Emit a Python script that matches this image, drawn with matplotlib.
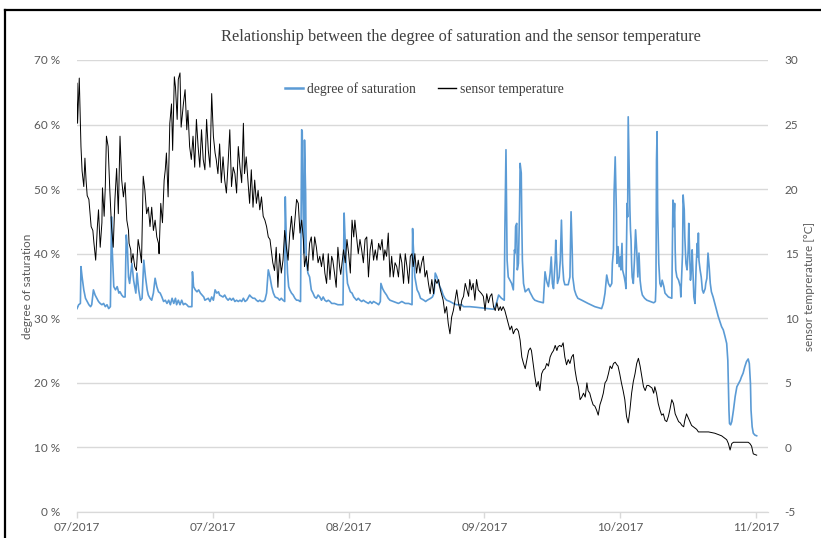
#!/usr/bin/env python

import matplotlib
matplotlib.use("Agg")
import matplotlib.pyplot as plt
from matplotlib.lines import Line2D
from matplotlib.ticker import MultipleLocator, FuncFormatter
import pandas as pd

START = pd.Timestamp("2017-07-06")

# degree of saturation [%], day offset from START
sat_days = [
    0.0, 0.3, 0.6, 0.7, 0.9, 1.2, 1.5, 1.8, 2.1, 2.4, 2.6, 2.9, 3.2, 3.5, 3.8, 4.1,
    4.4, 4.7, 5.0, 5.3, 5.6, 5.9, 6.1, 6.2, 6.5, 6.8, 7.1, 7.4, 7.6, 7.9, 8.2, 8.5,
    8.7, 8.9, 9.1, 9.3, 9.5, 9.7, 10.0, 10.2, 10.4, 10.6, 10.9, 11.2, 11.5, 11.8, 12.1,
    12.4, 12.6, 12.9, 13.2, 13.5, 13.8, 14.1, 14.4, 14.7, 15.0, 15.3, 15.6, 15.9, 16.2,
    16.5, 16.8, 17.1, 17.4, 17.6, 17.9, 18.2, 18.5, 18.8, 19.1, 19.4, 19.7, 20.3, 20.4,
    20.6, 20.9, 21.2, 21.5, 21.8, 22.1, 22.4, 22.6, 23.2, 23.5, 23.8, 24.1, 24.4, 24.7,
    25.0, 25.2, 25.8, 26.1, 26.4, 26.7, 27.0, 27.3, 27.6, 27.9, 28.2, 28.5, 28.8, 29.1,
    29.4, 29.7, 30.0, 30.2, 30.5, 30.8, 31.1, 31.4, 31.7, 32.0, 32.3, 32.6, 32.9, 33.2,
    33.5, 33.8, 34.1, 34.4, 34.7, 35.0, 35.5, 35.8, 36.1, 36.4, 36.7, 36.8, 37.0, 37.2,
    37.4, 37.6, 37.9, 38.2, 38.5, 38.8, 39.1, 39.4, 39.5, 39.7, 39.8, 39.9, 40.1, 40.2,
    40.4, 40.5, 40.8, 41.1, 41.4, 41.7, 42.0, 42.3, 42.6, 42.9, 43.2, 43.5, 43.8, 44.1,
    44.4, 44.7, 45.0, 45.5, 46.1, 46.7, 47.0, 47.2, 47.4, 47.6, 47.8, 48.0, 48.3, 48.6,
    48.9, 49.1, 49.4, 49.7, 50.0, 50.3, 50.6, 50.9, 51.5, 51.8, 52.1, 52.4, 53.0, 53.3,
    53.6, 53.7, 54.0, 54.3, 54.7, 55.0, 55.3, 55.9, 56.8, 57.4, 58.0, 58.6, 59.2, 59.3,
    59.4, 59.6, 59.7, 59.9, 60.1, 60.4, 60.7, 61.3, 61.6, 61.9, 62.5, 62.8, 63.1, 63.3,
    63.6, 63.9, 64.1, 64.4, 64.7, 65.0, 65.3, 65.9, 66.5, 67.1, 68.0, 68.3, 69.4, 70.6,
    72.7, 73.6, 73.9, 74.2, 74.5, 74.8, 75.0, 75.5, 75.6, 75.8, 75.9, 76.0, 76.2, 76.5,
    76.8, 77.1, 77.3, 77.4, 77.5, 77.7, 77.8, 78.0, 78.2, 78.3, 78.5, 78.6, 78.7, 78.9,
    79.2, 79.8, 80.0, 80.3, 80.6, 80.9, 81.5, 82.4, 82.7, 83.0, 83.3, 83.6, 83.8, 84.0,
    84.2, 84.5, 84.6, 84.8, 84.9, 85.2, 85.4, 85.6, 85.8, 86.0, 86.2, 86.8, 87.1, 87.3,
    87.5, 87.6, 87.9, 88.2, 88.5, 89.2, 90.3, 91.5, 92.7, 93.0, 93.3, 93.6, 93.9, 94.2,
    94.5, 94.6, 94.8, 94.9, 95.1, 95.3, 95.4, 95.6, 95.8, 96.0, 96.1, 96.3, 96.4, 96.7,
    96.9, 97.0, 97.2, 97.3, 97.4, 97.6, 97.7, 97.8, 97.9, 98.0, 98.1, 98.3, 98.5, 98.7,
    98.9, 99.1, 99.3, 99.5, 99.7, 99.9, 100.3, 100.7, 101.3, 101.9, 102.2, 102.3, 102.4,
    102.5, 102.6, 102.8, 103.0, 103.2, 103.4, 103.7, 103.9, 104.5, 105.1, 105.3, 105.4,
    105.6, 105.7, 105.8, 106.0, 106.3, 106.6, 106.7, 107.0, 107.1, 107.3, 107.4, 107.6,
    107.8, 108.0, 108.1, 108.3, 108.4, 108.6, 108.7, 109.0, 109.2, 109.4, 109.6, 109.7,
    109.8, 109.9, 110.1, 110.3, 110.5, 110.7, 111.0, 111.1, 111.3, 111.5, 111.7, 111.9,
    112.1, 112.4, 112.7, 113.0, 113.3, 113.6, 113.9, 114.2, 114.5, 114.8, 115.0, 115.1,
    115.2, 115.3, 115.5, 115.7, 116.0, 116.3, 116.6, 116.9, 117.2, 117.4, 117.7, 118.0,
    118.3, 118.6, 118.8, 119.0, 119.1, 119.3, 119.5, 119.8, 120.1,
]
sat_vals = [
    31.5, 32.1, 32.3, 38.0, 36.4, 34.4, 33.1, 32.6, 32.1, 31.8, 32.1, 34.4, 33.6, 33.1, 32.6, 32.3,
    32.1, 32.3, 31.8, 32.1, 31.5, 31.8, 45.7, 41.1, 34.9, 34.4, 34.9, 33.9, 34.1, 33.6, 33.3, 33.3,
    42.9, 41.1, 36.4, 35.4, 37.0, 38.5, 35.9, 34.9, 33.9, 37.0, 34.4, 32.8, 33.1, 39.0, 36.4,
    34.4, 33.6, 33.1, 32.8, 33.9, 36.2, 34.9, 34.1, 33.9, 33.3, 32.6, 32.8, 32.3, 32.8,
    32.1, 33.1, 32.3, 33.1, 32.1, 32.8, 32.1, 32.8, 32.1, 32.3, 32.1, 31.8, 31.8, 37.2,
    34.9, 34.4, 34.1, 34.4, 33.9, 33.6, 33.3, 32.8, 33.1, 32.6, 33.3, 32.8, 34.4, 33.9,
    34.1, 33.6, 33.3, 33.6, 33.1, 32.8, 33.1, 32.8, 33.1, 32.6, 32.8, 32.6, 32.8, 32.6,
    33.1, 32.6, 32.8, 33.1, 33.6, 33.3, 33.1, 33.1, 32.8, 32.6, 32.8, 32.6, 32.6, 32.8,
    33.9, 37.5, 36.4, 34.9, 33.9, 33.3, 33.1, 32.8, 33.1, 32.8, 32.6, 48.8, 41.6, 37.0,
    34.9, 34.4, 33.9, 33.6, 33.1, 32.8, 32.8, 32.6, 32.6, 59.2, 58.9, 49.3, 40.1, 57.6,
    49.3, 39.0, 37.0, 36.4, 34.4, 33.9, 33.3, 33.1, 33.6, 33.3, 32.8, 33.3, 32.8, 32.6,
    32.8, 32.6, 32.3, 32.3, 32.1, 32.1, 32.1, 46.3, 41.6, 37.5, 35.4, 34.9, 34.1, 33.9,
    33.3, 33.1, 32.8, 33.1, 32.8, 32.6, 32.8, 32.6, 32.3, 32.6, 32.3, 32.6, 32.3, 32.1,
    32.6, 35.4, 34.6, 34.1, 33.6, 33.1, 32.8, 32.6, 32.3, 32.6, 32.3, 32.3, 32.1, 43.9,
    41.6, 38.0, 36.4, 35.4, 34.4, 33.9, 33.1, 32.8, 32.6, 32.8, 33.1, 33.3, 33.9, 37.0,
    36.4, 35.4, 34.9, 34.4, 33.6, 33.1, 32.8, 32.6, 32.3, 32.1, 32.1, 31.8, 31.8, 31.7,
    31.5, 31.4, 31.8, 32.6, 33.6, 33.3, 33.1, 32.8, 43.2, 56.1, 46.8, 39.0, 36.4, 35.9,
    35.4, 34.4, 40.6, 40.1, 44.2, 44.7, 37.5, 38.5, 46.8, 54.0, 52.5, 44.7, 39.0, 35.4,
    34.1, 34.6, 34.1, 33.6, 33.1, 32.8, 32.6, 32.4, 37.2, 35.7, 34.9, 37.0, 39.5, 35.4,
    34.6, 39.0, 42.1, 38.0, 35.4, 36.4, 39.0, 45.2, 38.5, 35.9, 35.2, 35.2, 36.4, 46.5,
    40.6, 36.4, 34.4, 33.6, 33.1, 32.8, 32.3, 31.8, 31.5, 32.3, 33.9, 36.7, 35.4, 34.9,
    35.4, 38.5, 40.6, 49.4, 55.0, 46.8, 38.5, 41.1, 38.0, 39.5, 37.5, 41.6, 37.5, 36.4,
    35.4, 34.6, 47.8, 45.7, 61.2, 51.9, 46.8, 43.7, 42.1, 38.5, 36.4, 35.4, 39.0, 43.7,
    40.6, 36.4, 40.1, 35.9, 34.4, 33.6, 33.1, 32.8, 32.6, 32.4, 32.6, 34.9, 54.5,
    58.9, 46.8, 38.5, 35.4, 34.9, 35.9, 34.9, 33.9, 33.3, 33.1, 48.3, 44.2,
    47.8, 40.6, 37.5, 36.4, 35.9, 34.9, 33.3, 40.1, 49.1, 46.8, 42.6, 38.5,
    37.5, 40.6, 44.7, 39.0, 35.9, 38.0, 40.6, 33.3, 32.3, 38.0, 41.6, 39.5,
    43.2, 39.0, 37.5, 36.4, 34.4, 33.9, 34.6, 35.4, 36.2, 40.1, 38.0, 35.4,
    34.1, 33.3, 32.3, 31.3, 30.3, 29.5, 28.7, 28.2, 27.2, 26.1, 23.5, 19.9,
    15.8, 13.7, 13.5, 14.0, 15.8, 17.9, 19.4, 19.9, 20.4, 20.9, 21.5, 22.5,
    23.3, 23.7, 23.0, 19.9, 15.8, 13.2, 12.2, 11.9, 11.8,
]

# sensor temperature [°C], day offset from START
temp_days = [
    0.0, 0.1, 0.4, 0.7, 0.9, 1.2, 1.4, 1.6, 1.8, 2.1, 2.3, 2.5, 2.8, 3.0, 3.3, 3.6, 3.8,
    4.1, 4.4, 4.5, 4.8, 5.0, 5.2, 5.5, 5.8, 6.1, 6.4, 6.7, 7.0, 7.3, 7.6, 7.9, 8.2, 8.5,
    8.8, 9.1, 9.2, 9.5, 9.6, 9.9, 10.2, 10.5, 10.8, 11.1, 11.4, 11.7, 12.0, 12.3, 12.6,
    12.9, 13.2, 13.5, 13.8, 14.1, 14.4, 14.5, 14.8, 15.1, 15.4, 15.6, 15.8, 16.1, 16.4,
    16.7, 16.9, 17.2, 17.4, 17.7, 17.9, 18.2, 18.4, 18.8, 19.1, 19.4, 19.6, 19.9, 20.2,
    20.5, 20.8, 21.1, 21.4, 21.7, 22.0, 22.3, 22.6, 22.9, 23.2, 23.5, 23.8, 24.1, 24.4,
    24.6, 24.9, 25.2, 25.5, 25.8, 26.1, 26.4, 26.7, 27.0, 27.3, 27.6, 27.9, 28.2, 28.5,
    28.8, 29.1, 29.4, 29.6, 29.9, 30.2, 30.5, 30.8, 31.1, 31.4, 31.7, 32.0, 32.3, 32.6,
    32.9, 33.2, 33.5, 33.8, 34.1, 34.4, 34.6, 34.9, 35.2, 35.5, 35.8, 36.1, 36.4, 36.7,
    37.0, 37.3, 37.6, 37.9, 38.2, 38.5, 38.8, 39.1, 39.4, 39.7, 40.0, 40.2, 40.5, 40.8,
    41.1, 41.4, 41.7, 42.0, 42.3, 42.6, 42.9, 43.2, 43.5, 43.8, 44.1, 44.4, 44.7, 45.0,
    45.2, 45.5, 45.8, 46.1, 46.4, 46.6, 47.1, 47.4, 47.7, 48.0, 48.3, 48.6, 48.9, 49.1,
    49.4, 49.7, 50.0, 50.3, 50.6, 50.9, 51.2, 51.5, 51.8, 52.1, 52.4, 52.7, 53.0, 53.3,
    53.6, 53.9, 54.2, 54.4, 54.7, 55.0, 55.3, 55.6, 55.9, 56.2, 56.5, 56.8, 57.1, 57.4,
    57.7, 58.0, 58.3, 58.6, 58.9, 59.2, 59.4, 59.7, 60.0, 60.3, 60.6, 60.9, 61.2, 61.5,
    61.8, 62.1, 62.4, 62.7, 63.0, 63.3, 63.6, 63.9, 64.2, 64.4, 64.7, 65.0, 65.3, 65.6,
    65.9, 66.2, 66.5, 66.8, 67.1, 67.4, 67.7, 68.0, 68.3, 68.6, 68.9, 69.2, 69.4, 69.7,
    70.0, 70.3, 70.6, 70.9, 71.5, 71.8, 72.1, 72.4, 72.7, 73.0, 73.3, 73.6, 73.9, 74.2,
    74.5, 74.8, 75.0, 75.3, 75.6, 75.9, 76.2, 76.5, 76.8, 77.1, 77.4, 77.7, 78.0, 78.3,
    78.6, 78.9, 79.2, 79.5, 79.8, 80.1, 80.3, 80.6, 80.9, 81.2, 81.5, 81.8, 82.1, 82.4,
    82.7, 83.0, 83.3, 83.6, 83.9, 84.2, 84.5, 84.8, 85.0, 85.3, 85.6, 85.9, 86.2, 86.5,
    86.8, 87.1, 87.4, 87.7, 88.0, 88.3, 88.6, 88.9, 89.2, 89.5, 89.8, 90.1, 90.3, 90.6,
    90.9, 91.2, 91.5, 91.8, 92.1, 92.4, 92.7, 93.0, 93.3, 93.6, 93.9, 94.2, 94.5, 94.8,
    95.1, 95.4, 95.6, 95.9, 96.2, 96.5, 96.8, 97.1, 97.4, 97.7, 98.0, 98.3, 98.6, 98.9,
    99.2, 99.5, 99.8, 100.1, 100.4, 100.7, 101.0, 101.3, 101.6, 101.9, 102.1, 102.4,
    102.7, 103.0, 103.3, 103.6, 103.9, 104.2, 104.5, 104.8, 105.1, 105.4, 105.7, 106.0,
    106.3, 106.6, 106.9, 107.2, 107.4, 107.7, 108.0, 108.3, 108.6, 108.9, 109.2, 109.5,
    109.8, 110.4, 111.6, 112.7, 113.3, 113.9, 114.5, 114.8, 115.1, 115.4, 115.7, 116.0,
    117.4, 118.6, 118.9, 119.2, 119.5, 120.1,
]
temp_vals = [
    28.2, 25.1, 28.6, 23.3, 21.4, 20.2, 22.4, 20.7, 19.5, 19.2, 18.1, 17.1, 16.8, 15.8, 14.5, 17.1, 18.4,
    15.5, 17.4, 20.1, 17.9, 20.2, 24.1, 23.3, 19.9, 17.1, 15.5, 19.2, 21.6, 18.1, 24.1, 20.7, 19.4, 20.5,
    17.6, 16.8, 15.8, 15.3, 14.3, 15.0, 14.0, 13.7, 16.1, 15.3, 14.3, 21.0, 19.9, 18.1, 18.6,
    17.1, 18.6, 16.8, 17.6, 16.3, 15.8, 15.0, 18.9, 17.4, 20.7, 21.5, 22.8, 19.4, 25.1,
    26.6, 23.0, 28.7, 27.9, 25.4, 28.5, 29.0, 24.8, 26.6, 27.7, 24.6, 26.1, 23.3, 22.3,
    24.1, 21.7, 25.4, 23.3, 21.7, 24.6, 22.3, 21.5, 25.4, 23.0, 21.7, 27.4, 24.1, 22.8,
    22.3, 21.2, 23.5, 20.5, 22.5, 20.7, 19.7, 22.0, 24.6, 20.2, 21.7, 21.2, 19.7, 23.3,
    21.7, 20.5, 25.1, 21.2, 22.5, 20.7, 18.9, 21.5, 18.6, 20.7, 18.9, 19.9, 18.4, 19.4,
    17.9, 17.6, 17.1, 16.3, 16.1, 15.0, 14.3, 13.7, 15.5, 12.4, 15.0, 13.5, 14.5, 16.8,
    15.5, 14.5, 16.6, 17.9, 16.1, 17.6, 19.2, 18.9, 16.6, 17.6, 16.1, 14.0, 14.8, 13.7,
    15.8, 16.3, 14.5, 16.3, 15.5, 14.3, 14.8, 14.0, 15.0, 13.5, 12.7, 15.0, 13.0, 14.8,
    14.5, 13.5, 12.4, 15.5, 14.0, 13.4, 15.3, 14.3, 16.1, 15.0, 13.5, 17.6, 16.3, 17.6,
    16.3, 15.0, 16.1, 15.3, 14.3, 16.1, 16.3, 13.2, 15.3, 16.1, 14.5, 15.3, 14.5, 15.8,
    15.3, 16.1, 14.5, 15.3, 14.8, 16.6, 13.2, 14.8, 13.2, 14.3, 14.0, 13.2, 15.0, 14.3,
    12.7, 15.0, 14.0, 12.7, 14.8, 15.0, 14.0, 15.0, 13.5, 14.5, 13.5, 14.3, 14.8, 13.2,
    13.7, 12.7, 11.9, 13.0, 11.9, 13.0, 12.7, 13.0, 12.2, 11.9, 11.4, 10.4, 10.9, 9.6,
    8.8, 10.1, 10.6, 11.4, 12.2, 11.2, 10.6, 11.4, 11.7, 12.7, 12.2, 11.7, 13.0, 12.2,
    12.7, 11.4, 13.0, 12.2, 11.9, 11.7, 10.6, 11.9, 11.2, 11.7, 11.9, 10.9, 10.6, 11.2,
    10.6, 10.9, 10.6, 10.9, 10.6, 10.1, 9.6, 9.1, 9.4, 8.8, 9.1, 9.2, 9.0, 8.3,
    7.0, 6.5, 6.1, 6.8, 7.5, 7.7, 7.5, 6.5, 5.5, 4.7, 5.1, 4.4, 5.7, 6.0,
    6.1, 6.5, 6.3, 7.0, 7.3, 7.5, 7.9, 7.5, 7.8, 7.9, 7.8, 8.1, 7.0, 6.4,
    6.8, 6.5, 7.0, 7.2, 6.0, 5.2, 4.7, 3.7, 3.9, 4.2, 3.9, 5.0, 4.4, 4.2,
    3.7, 3.3, 3.2, 2.9, 2.5, 3.3, 3.7, 4.2, 5.0, 5.2, 5.7, 6.3, 6.1, 6.5,
    6.6, 6.4, 6.3, 5.7, 5.0, 4.4, 3.7, 2.4, 1.9, 2.9, 4.2, 5.1, 5.7, 6.5,
    6.9, 6.3, 5.5, 4.7, 4.4, 4.8, 4.8, 4.7, 4.6, 4.2, 4.7, 4.2,
    3.4, 2.9, 2.5, 2.6, 2.1, 2.0, 2.4, 3.0, 3.7, 3.4, 2.6, 2.3,
    2.0, 1.9, 1.7, 1.6, 2.1, 2.6, 2.3, 2.0, 1.7, 1.6, 1.5, 1.4,
    1.2, 1.2, 1.2, 1.1, 1.0, 0.9, 0.7, 0.6, 0.3, -0.2, 0.3, 0.4,
    0.4, 0.4, 0.3, 0.1, -0.5, -0.6,
]

tick_days = [0, 24, 48, 72, 96, 120]
tick_labels = ["07/2017", "07/2017", "08/2017", "09/2017", "10/2017", "11/2017"]

BLUE = "#5B9BD5"
GRAY = "#595959"
GRID = "#D9D9D9"
SANS = "Lato"
SERIF = "Liberation Serif"

plt.rcParams["axes.unicode_minus"] = False


def to_dates(days):
    return START + pd.to_timedelta(days, unit="D")


def make_plot():
    fig = plt.figure(figsize=(8.21, 5.38), dpi=100)
    ax = fig.add_axes([77 / 821, 1 - 512 / 538, (768 - 77) / 821, (512 - 60) / 538])
    ax2 = ax.twinx()

    ax.plot(to_dates(sat_days), sat_vals, color=BLUE, lw=1.2,
            label="degree of saturation")
    ax2.plot(to_dates(temp_days), temp_vals, color="black", lw=0.7,
             label="sensor temperature")

    ax.set_xlim(START, START + pd.Timedelta(days=122.1))
    ax.set_ylim(0, 70)
    ax2.set_ylim(-5, 30)
    ax.yaxis.set_major_locator(MultipleLocator(10))
    ax.yaxis.set_major_formatter(FuncFormatter(lambda v, p: f"{v:.0f} %"))
    ax2.yaxis.set_major_locator(MultipleLocator(5))
    ax.set_xticks(to_dates(tick_days), labels=tick_labels)

    ax.grid(axis="y", color=GRID, lw=1.0)
    ax.set_axisbelow(True)
    for a in (ax, ax2):
        for side in ("left", "right", "top"):
            a.spines[side].set_visible(False)
        a.spines["bottom"].set_color(GRID)
    ax.tick_params(axis="x", colors=GRID, length=4, width=1.0, pad=3,
                   labelcolor=GRAY, labelsize=8.5)
    ax.tick_params(axis="y", length=0, pad=12, labelcolor=GRAY, labelsize=8.5)
    ax2.tick_params(axis="y", length=0, pad=12, labelcolor=GRAY, labelsize=8.5)
    for lab in ax.get_xticklabels() + ax.get_yticklabels() + ax2.get_yticklabels():
        lab.set_fontfamily(SANS)

    ax.set_ylabel("degree of saturation", color=GRAY, fontsize=8.5,
                  family=SANS, labelpad=1)
    ax2.set_ylabel("sensor temprerature [°C]", color=GRAY, fontsize=8.5,
                   family=SANS, labelpad=4)

    fig.text(0.561, 1 - 37 / 538,
             "Relationship between the degree of saturation and the sensor temperature",
             ha="center", va="center", color="#404040", fontsize=11.8, family=SERIF)

    handles = [Line2D([], [], color=BLUE, lw=1.8), Line2D([], [], color="black", lw=1.0)]
    fig.legend(handles, ["degree of saturation", "sensor temperature"],
               loc="center", bbox_to_anchor=(0.517, 1 - 89 / 538), ncol=2,
               frameon=False, prop={"family": SERIF, "size": 9.8},
               labelcolor="#404040", handlelength=1.3, handletextpad=0.3,
               columnspacing=1.6)

    # outer chart border (cropped on the right and bottom)
    fig.add_artist(Line2D([5 / 821, 5 / 821], [0, 1 - 10 / 538],
                          transform=fig.transFigure, color="black", lw=1.6))
    fig.add_artist(Line2D([5 / 821, 1], [1 - 10 / 538, 1 - 10 / 538],
                          transform=fig.transFigure, color="black", lw=1.6))

    plt.savefig("out.png", dpi=100)
    plt.close()


def main():
    make_plot()


if __name__ == "__main__":
    main()
